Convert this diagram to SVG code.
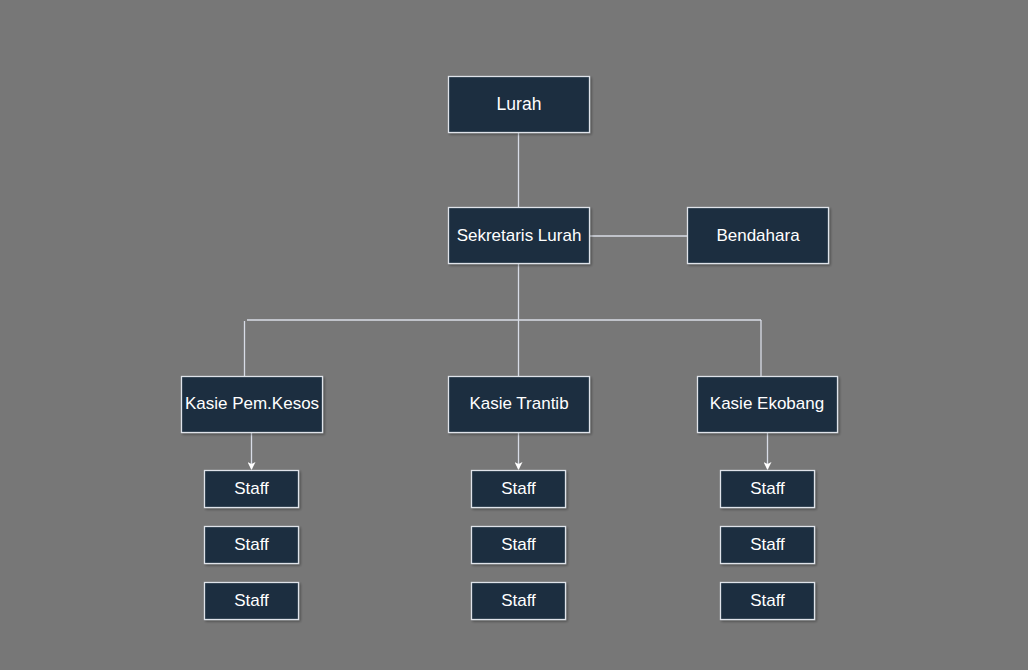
<svg xmlns="http://www.w3.org/2000/svg" width="1028" height="670" viewBox="0 0 1028 670">
<style>
.n{fill:#1a2d3f;stroke:#dfe3ea;stroke-width:1.3;filter:url(#sh)}
.t{fill:#ffffff;font-family:"Liberation Sans",Arial,sans-serif;font-size:17px;text-anchor:middle;dominant-baseline:central}
.c{stroke:#d8dce6;stroke-width:1.3;fill:none}
</style>
<defs>
<filter id="sh" x="-20%" y="-20%" width="140%" height="140%">
<feDropShadow dx="1.5" dy="1.5" stdDeviation="1.2" flood-color="#000" flood-opacity="0.35"/>
</filter>
<marker id="ar" markerWidth="8" markerHeight="8" refX="7" refY="4" orient="auto" markerUnits="userSpaceOnUse">
<path d="M0,0 L8,4 L0,8 L2,4 Z" fill="#ffffff"/>
</marker>
</defs>
<rect width="1028" height="670" fill="#777777"/>
<g id="connectors">
<line class="c" x1="518.5" y1="132" x2="518.5" y2="207"/>
<line class="c" x1="589" y1="236" x2="687" y2="236"/>
<line class="c" x1="518.5" y1="263" x2="518.5" y2="376"/>
<line class="c" x1="247" y1="320" x2="761" y2="320"/>
<line class="c" x1="244.5" y1="321" x2="244.5" y2="376"/>
<line class="c" x1="761" y1="320" x2="761" y2="380"/>
<line class="c" x1="251.5" y1="432" x2="251.5" y2="469" marker-end="url(#ar)"/>
<line class="c" x1="518.5" y1="432" x2="518.5" y2="469" marker-end="url(#ar)"/>
<line class="c" x1="767.5" y1="432" x2="767.5" y2="469" marker-end="url(#ar)"/>
</g>
<g id="lurah"><rect class="n" x="448.5" y="76.5" width="141" height="56"/><text class="t" x="519" y="103.5" style="font-size:17.5px">Lurah</text></g>
<g id="sekretaris"><rect class="n" x="448.5" y="207.5" width="141" height="56"/><text class="t" x="519" y="235.5">Sekretaris Lurah</text></g>
<g id="bendahara"><rect class="n" x="687.5" y="207.5" width="141" height="56"/><text class="t" x="758" y="235.5">Bendahara</text></g>
<g id="kasie-pem"><rect class="n" x="181.5" y="376.5" width="141" height="56"/><text class="t" x="252" y="403.5">Kasie Pem.Kesos</text></g>
<g id="kasie-trantib"><rect class="n" x="448.5" y="376.5" width="141" height="56"/><text class="t" x="519" y="403.5">Kasie Trantib</text></g>
<g id="kasie-ekobang"><rect class="n" x="697.5" y="376.5" width="140" height="56"/><text class="t" x="767" y="403.5">Kasie Ekobang</text></g>
<g id="staff-l1"><rect class="n" x="204.5" y="470.5" width="94" height="37"/><text class="t" x="251.5" y="488.5">Staff</text></g>
<g id="staff-l2"><rect class="n" x="204.5" y="526.5" width="94" height="37"/><text class="t" x="251.5" y="544.5">Staff</text></g>
<g id="staff-l3"><rect class="n" x="204.5" y="582.5" width="94" height="37"/><text class="t" x="251.5" y="600.5">Staff</text></g>
<g id="staff-m1"><rect class="n" x="471.5" y="470.5" width="94" height="37"/><text class="t" x="518.5" y="488.5">Staff</text></g>
<g id="staff-m2"><rect class="n" x="471.5" y="526.5" width="94" height="37"/><text class="t" x="518.5" y="544.5">Staff</text></g>
<g id="staff-m3"><rect class="n" x="471.5" y="582.5" width="94" height="37"/><text class="t" x="518.5" y="600.5">Staff</text></g>
<g id="staff-r1"><rect class="n" x="720.5" y="470.5" width="94" height="37"/><text class="t" x="767.5" y="488.5">Staff</text></g>
<g id="staff-r2"><rect class="n" x="720.5" y="526.5" width="94" height="37"/><text class="t" x="767.5" y="544.5">Staff</text></g>
<g id="staff-r3"><rect class="n" x="720.5" y="582.5" width="94" height="37"/><text class="t" x="767.5" y="600.5">Staff</text></g>
</svg>
